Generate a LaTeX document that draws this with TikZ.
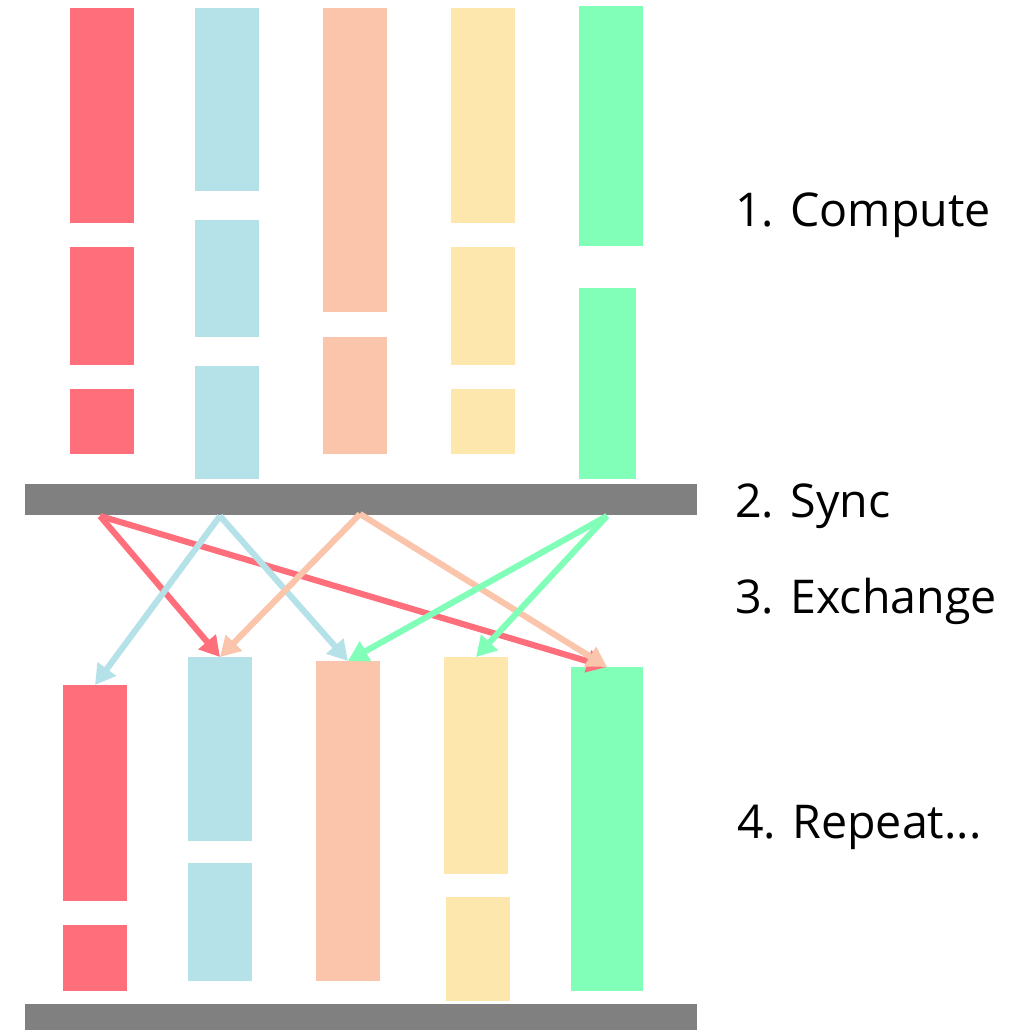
\documentclass[tikz,border=0pt]{standalone}
\usepackage{fontspec}
\setmainfont{Open Sans}
\usetikzlibrary{arrows.meta,fit}
\definecolor{pred}{HTML}{FF6F7B}
\definecolor{pblue}{HTML}{B5E2E9}
\definecolor{porange}{HTML}{FAC5AB}
\definecolor{pyellow}{HTML}{FDE7AC}
\definecolor{pgreen}{HTML}{81FFB9}
\definecolor{pgray}{HTML}{808080}
\tikzset{
  blk/.style={inner sep=0pt, outer sep=0pt, draw=none},
  flow/.style={-{Triangle[length=4mm, width=4.4mm]}, line width=3.5pt},
  phase/.style={anchor=base west, inner sep=0pt, font=\fontsize{26.5}{32}\selectfont}
}
\newcommand{\blkat}[6]{\node[blk, fill=#2, fit={(#3,#4) (#5,#6)}] (#1) {};}

\begin{document}
\begin{tikzpicture}[x=0.02cm, y=-0.02cm]
  \useasboundingbox (0,0) rectangle (1035,1030);
  % compute blocks
  \blkat{tred1}{pred}{70}{8}{134}{223} \blkat{tred2}{pred}{70}{247}{134}{365} \blkat{tred3}{pred}{70}{389}{134}{454}
  \blkat{tblue1}{pblue}{195}{8}{259}{191} \blkat{tblue2}{pblue}{195}{220}{259}{337} \blkat{tblue3}{pblue}{195}{366}{259}{479}
  \blkat{torange1}{porange}{323}{8}{387}{312} \blkat{torange2}{porange}{323}{337}{387}{454}
  \blkat{tyellow1}{pyellow}{451}{8}{515}{223} \blkat{tyellow2}{pyellow}{451}{247}{515}{365} \blkat{tyellow3}{pyellow}{451}{389}{515}{454}
  \blkat{tgreen1}{pgreen}{579}{6}{643}{246} \blkat{tgreen2}{pgreen}{579}{288}{636}{479}
  % sync bars
  \blkat{sync}{pgray}{25}{484}{697}{515}
  \blkat{sync2}{pgray}{25}{1004}{697}{1030}
  % next round
  \blkat{bred1}{pred}{63}{685}{127}{901} \blkat{bred2}{pred}{63}{925}{127}{991}
  \blkat{bblue1}{pblue}{188}{657}{252}{841} \blkat{bblue2}{pblue}{188}{863}{252}{981}
  \blkat{borange1}{porange}{316}{661}{380}{981}
  \blkat{byellow1}{pyellow}{444}{657}{508}{874} \blkat{byellow2}{pyellow}{446}{897}{510}{1001}
  \blkat{bgreen1}{pgreen}{571}{667}{643}{991}
  % exchange
  \coordinate (sred) at (100,516); \coordinate (sblue) at (220,516);
  \coordinate (sorange) at (360,514); \coordinate (sgreen) at (607,516);
  \draw[flow, pred] (sred)--(bblue1.north); \draw[flow, pred] (sred)--(bgreen1.north);
  \draw[flow, pblue] (sblue)--(bred1.north); \draw[flow, pblue] (sblue)--(borange1.north);
  \draw[flow, porange] (sorange)--(bblue1.north); \draw[flow, porange] (sorange)--(bgreen1.north);
  \draw[flow, pgreen] (sgreen)--(borange1.north); \draw[flow, pgreen] (sgreen)--(byellow1.north);
  % labels
  \node[phase] (lcompute) at (735,227) {1. Compute};
  \node[phase] (lsync) at (735,518) {2. Sync};
  \node[phase] (lexchange) at (735,613) {3. Exchange};
  \node[phase] (lrepeat) at (737,838) {4. Repeat...};
\end{tikzpicture}
\end{document}
